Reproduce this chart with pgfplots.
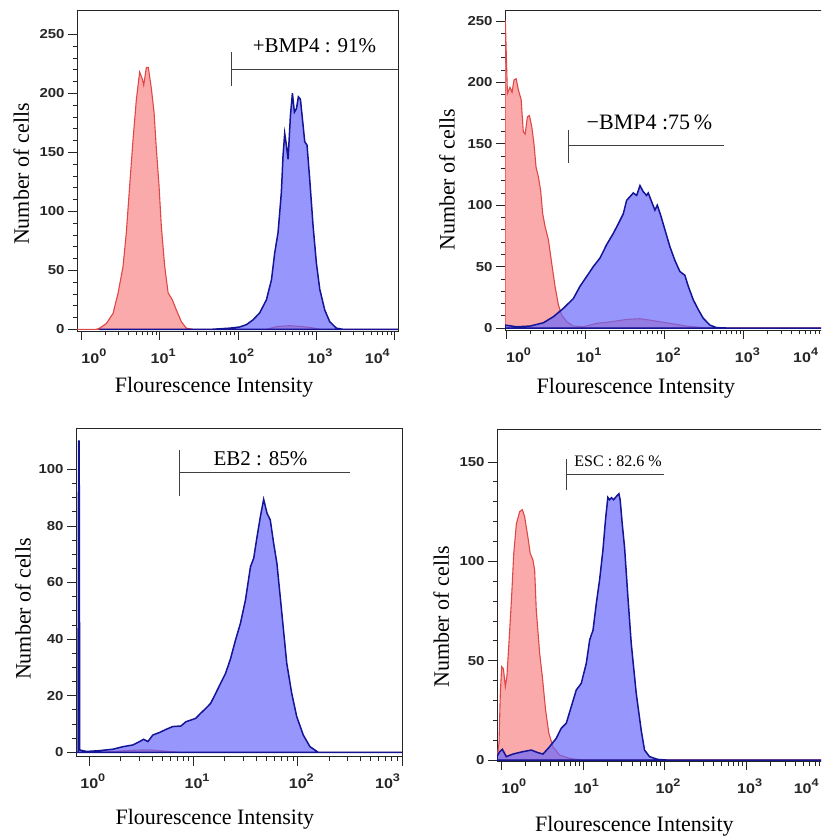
\documentclass[border=0pt]{standalone}
\usepackage{fontspec}
\setmainfont{Liberation Serif}
\newfontfamily\tickfamily{Liberation Sans}[FakeStretch=1.15]
\usepackage{pgfplots}
\pgfplotsset{compat=1.18}

\definecolor{redline}{RGB}{225,70,70}
\definecolor{redfill}{RGB}{250,170,170}
\definecolor{blueline}{RGB}{20,20,150}
\definecolor{bluefill}{RGB}{105,105,252}

% decade labels: centred, left-aligned (first) and right-aligned (last)
\newcommand{\expo}[1]{\raisebox{7pt}{\fontsize{11}{11}\selectfont #1}}
\newcommand{\decc}[1]{10\rlap{\expo{#1}}}
\newcommand{\decl}[1]{\rlap{10\expo{#1}}}
\newcommand{\decr}[2]{\llap{10\expo{#1}\hspace{#2}}}

\tikzset{
  negcurve/.style={draw=redline, fill=redfill, line width=1.1pt},
  poscurve/.style={draw=blueline, fill=bluefill, fill opacity=0.7, line width=1.5pt},
  gateline/.style={black!75, line width=0.8pt},
}
\pgfplotsset{
  facsaxis/.style={
    scale only axis,
    anchor=south west,
    tick align=outside,
    tick pos=left,
    axis line style={line width=0.9pt, black!85},
    every tick/.style={black!85, line width=0.8pt},
    major tick length=9pt,
    minor tick length=4.5pt,
    /pgf/number format/assume math mode=true,
    yticklabel style={font=\tickfamily\bfseries\fontsize{13}{13}\selectfont, text=black!85},
    xticklabel style={font=\tickfamily\bfseries\fontsize{14}{14}\selectfont, text=black!85, yshift=-5pt},
    label style={font=\fontsize{22}{22}\selectfont},
    xlabel={Flourescence Intensity},
    ylabel={Number of cells},
  },
}

\begin{document}
\begin{tikzpicture}
\useasboundingbox (0,0) rectangle (821pt,837pt);
\clip (0,0) rectangle (821pt,837pt);

% +BMP4
\begin{semilogxaxis}[facsaxis, at={(77pt,506pt)}, width=321pt, height=321pt,
  xmin=0.88, xmax=11000, ymin=-1.4, ymax=270.6,
  ytick={0,50,...,250}, minor y tick num=4,
  xtick={1,10,100,1000,10000},
  xticklabels={\decl{0},\decc{1},\decc{2},\decc{3},\decr{4}{5pt}},
  xlabel style={at={(axis description cs:0.427,-0.193)}, anchor=base},
  ylabel style={at={(axis description cs:-0.174,0.489)}, anchor=center}]
\addplot[negcurve] table {
0.88 0
1.55 0
1.71 1
2.09 5
2.54 13.6
2.94 30.7
3.40 53
3.75 82
4.14 122
4.57 161
5.04 195
5.55 218
6.01 212
6.25 207
6.76 222
7.16 222
7.83 204
8.47 184
9.06 153
9.80 122
10.5 87
11.6 53
12.8 31
14.5 25
16.3 16.5
18.9 6.5
21.9 1
26.7 0
230 0
310 2.3
455 3.1
676 2.3
945 1
1104 0
11000 0
} \closedcycle;
\addplot[poscurve] table {
1.7 0
45.7 0
78.3 1
105 2
128 4
155 8
189 14
230 25
267 42
294 65
324 82
357 116
375 147
394 166
414 156
435 144
466 181
494 200
524 184
556 187
589 197
625 195
676 173
710 159
760 156
822 127
906 88
1000 56
1104 34
1277 16.5
1479 6.5
1799 1
2188 0
11000 0
} \closedcycle;
\draw[gateline] (axis cs:82.6,235) -- (axis cs:82.6,206);
\draw[gateline] (axis cs:82.6,220.6) -- (axis cs:11000,220.6);
\node[anchor=base, font=\fontsize{21}{21}\selectfont] at (axis cs:946,235) {+BMP4 : 91\%};
\end{semilogxaxis}

% -BMP4
\begin{semilogxaxis}[facsaxis, at={(505pt,507pt)}, width=334pt, height=320pt,
  xmin=0.97, xmax=15850, ymin=-1.6, ymax=259,
  ytick={0,50,...,250}, minor y tick num=4,
  xtick={1,10,100,1000,10000},
  xticklabels={\decl{0},\decc{1},\decc{2},\decc{3},\decr{4}{5pt}},
  xlabel style={at={(axis description cs:0.392,-0.197)}, anchor=base},
  ylabel style={at={(axis description cs:-0.174,0.469)}, anchor=center}]
\addplot[negcurve] table {
0.97 250
0.98 250
1.04 191
1.12 196
1.19 192
1.26 202
1.34 203
1.43 194
1.55 186
1.65 160
1.74 158
1.86 172
1.97 173
2.11 164
2.25 150
2.39 131
2.56 123
2.73 112
2.90 93
3.10 83
3.42 72
3.76 53
4.15 34
4.57 19
5.03 10.6
5.82 5.2
7.06 1.6
9.44 1
13.9 3.8
20.5 5
33.2 7
48.9 7.6
72.0 6
117 3.8
189 1.6
307 0.3
600 0
15850 0
} \closedcycle;
\addplot[poscurve] table {
0.97 2.4
1.36 1
2.01 1.6
2.96 4.3
3.95 9.2
5.28 16
7.06 24
8.57 34
10.4 42
12.6 50
15.3 57
18.6 68
22.5 77
26.1 85
30.1 93
33.2 104
36.6 107
40.3 110
44.4 108
48.9 116
53.8 111
59.3 108
62.2 110
68.5 103
75.5 96
80.9 100
89.1 92
101 80
117 66
135 55
156 46
180 43
199 34
230 23
266 15
307 8
373 2.4
452 0.3
605 0
15850 0
} \closedcycle;
\draw[gateline] (axis cs:6.04,161) -- (axis cs:6.04,134);
\draw[gateline] (axis cs:6.04,149) -- (axis cs:560,149);
\node[anchor=base, font=\fontsize{22}{22}\selectfont] at (axis cs:64.4,162) {−BMP4 :75\,\%};
\end{semilogxaxis}

% EB2
\begin{semilogxaxis}[facsaxis, at={(76pt,80.3pt)}, width=326pt, height=328.7pt,
  xmin=0.746, xmax=1000, ymin=-1.55, ymax=114.6,
  ytick={0,20,...,100}, minor y tick num=3,
  xtick={1,10,100,1000},
  xticklabels={\decc{0},\decc{1},\decc{2},\decr{3}{2pt}},
  xlabel style={at={(axis description cs:0.426,-0.205)}, anchor=base},
  ylabel style={at={(axis description cs:-0.163,0.449)}, anchor=center}]
\addplot[negcurve] table {
0.746 0
1.26 0
1.69 0.3
2.27 0.6
3.04 0.8
4.07 0.8
5.45 0.4
7.30 0
1000 0
} \closedcycle;
\addplot[poscurve] table {
0.746 0
0.78 0
0.79 110
0.80 110
0.81 0.8
0.944 0.3
1.26 0.6
1.69 1.1
2.11 2
2.62 2.6
3.04 3.8
3.32 4.6
3.65 3.8
4.07 6.1
4.71 7
5.45 8.1
6.31 9.1
7.57 9.3
8.45 10.8
9.44 11.4
10.5 12
11.7 13.8
13.1 15.5
14.6 17.3
16.3 20.8
18.2 24.4
20.3 27.9
22.7 33.2
25.3 39.7
28.2 45.6
31.5 53.8
35.2 65.6
37.8 68.6
40.7 76.2
43.8 83.3
47.1 89.4
50.7 84.5
54.5 82.1
58.7 73.9
63.1 66.8
67.9 55
73.0 43.2
78.5 31.4
87.6 20.8
97.8 12.6
113 6.1
131 2
157 0
1000 0
} \closedcycle;
\draw[gateline] (axis cs:7.26,106.8) -- (axis cs:7.26,90.6);
\draw[gateline] (axis cs:7.26,99.0) -- (axis cs:316,99.0);
\node[anchor=base, font=\fontsize{21}{21}\selectfont] at (axis cs:43.9,101.5) {EB2 : 85\%};
\end{semilogxaxis}

% ESC
\begin{semilogxaxis}[facsaxis, at={(497pt,76pt)}, width=347pt, height=332pt,
  xmin=0.885, xmax=15850, ymin=-0.5, ymax=166.6,
  ytick={0,50,100,150}, minor y tick num=4,
  xtick={1,10,100,1000,10000},
  xticklabels={\decl{0},\decc{1},\decc{2},\decc{3},\decr{4}{9pt}},
  xlabel style={at={(axis description cs:0.396,-0.211)}, anchor=base},
  ylabel style={at={(axis description cs:-0.161,0.434)}, anchor=center}]
\addplot[negcurve] table {
0.885 0.8
0.936 8.4
0.972 33.6
1.01 47
1.06 46
1.12 37
1.17 42
1.24 59
1.33 80.5
1.42 104
1.53 119
1.68 125
1.81 126
1.93 122.5
2.12 112
2.26 104
2.44 100.7
2.56 95.6
2.68 75.5
2.95 53.7
3.18 42
3.49 25
3.83 13.4
4.29 6.7
5.18 2.5
6.87 0.8
10 0
15850 0
} \closedcycle;
\addplot[poscurve] table {
0.885 1.7
0.954 4.2
1.03 5.4
1.15 1.7
1.39 3
1.84 4.2
2.33 5
2.81 3.7
3.24 3
3.91 6.7
4.71 10.9
5.43 16
6.25 18.5
7.19 26.8
8.28 35.2
9.54 38.6
11.0 48.7
12.1 60.4
13.3 65.4
14.6 78.9
16.0 90.6
17.6 105.7
18.9 120.8
20.2 132.2
21.2 131
22.4 132
23.8 131
25.6 132.6
27.6 134
28.6 131
30.3 119
32.4 107
35.6 82
39.1 58.7
45.0 33.6
51.8 15
56.9 5
65.5 1.7
82.8 0.3
105 0
15850 0
} \closedcycle;
\draw[gateline] (axis cs:6.19,151.5) -- (axis cs:6.19,135.9);
\draw[gateline] (axis cs:6.19,143.9) -- (axis cs:98.2,143.9);
\node[anchor=base west, font=\fontsize{16}{16}\selectfont] at (axis cs:7.13,147.5) {ESC : 82.6 \%};
\end{semilogxaxis}
\end{tikzpicture}
\end{document}
